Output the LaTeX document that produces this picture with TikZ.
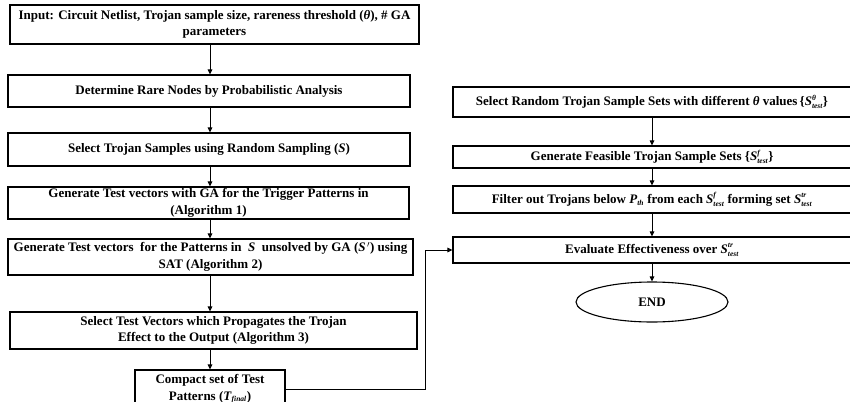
\documentclass[tikz,border=0pt]{standalone}
\usepackage{fontspec}
\setmainfont{Liberation Serif}
\usetikzlibrary{shapes.geometric,arrows.meta}
\newcommand{\myit}[1]{\textbf{\textit{#1}}}
\newcommand{\tinyit}[1]{\hbox{\fontsize{7.5}{7.5}\selectfont\bfseries\itshape #1}}
\newcommand{\Sset}[2]{$\myit{S}^{\tinyit{#1}}_{\tinyit{#2}}$}
\begin{document}
\begin{tikzpicture}[x=1pt,y=-1pt,
  box/.style={draw,line width=1.1pt,rectangle,inner sep=0pt,align=center,
    font=\fontsize{13}{16.5}\selectfont\bfseries},
  endnode/.style={draw,line width=1.1pt,ellipse,inner sep=0pt,
    font=\fontsize{13}{16.5}\selectfont\bfseries},
  arr/.style={line width=1pt,-{Triangle[length=5pt,width=4.5pt]}}]
\useasboundingbox (0,0) rectangle (850,401);
% left column
\node[box,minimum width=409pt,minimum height=39pt] (b1) at (214.5,24.5)
  {Input: Circuit Netlist, Trojan sample size, rareness threshold (\myit{θ}), \# GA\\parameters};
\node[box,minimum width=402pt,minimum height=32pt] (b2) at (209,91)
  {Determine Rare Nodes by Probabilistic Analysis};
\node[box,minimum width=402pt,minimum height=33pt] (b3) at (209,149.5)
  {Select Trojan Samples using Random Sampling (\myit{S})};
\node[box,minimum width=401pt,minimum height=32pt] (b4) at (208.5,203)
  {Generate Test vectors with GA for the Trigger Patterns in\\(Algorithm 1)};
\node[box,minimum width=405pt,minimum height=36pt] (b5) at (210.5,257)
  {Generate Test vectors\ \ for the Patterns in\ \ \myit{S}\ \ unsolved by GA (\myit{S}$^{\,\prime}$) using\\SAT (Algorithm 2)};
\node[box,minimum width=407pt,minimum height=37pt] (b6) at (213.5,330.5)
  {Select Test Vectors which Propagates the Trojan\\Effect to the Output (Algorithm 3)};
\node[box,minimum width=150pt,minimum height=38pt] (b7) at (210,389)
  {Compact set of Test\\Patterns (\myit{T}$_{\tinyit{final}}$)};
% right column
\node[box,minimum width=398pt,minimum height=30pt] (r1) at (652,102)
  {Select Random Trojan Sample Sets with different \myit{θ} values\,\{\Sset{θ}{test}\}};
\node[box,minimum width=398pt,minimum height=22pt] (r2) at (652,157)
  {Generate Feasible Trojan Sample Sets \{\Sset{f}{test}\}};
\node[box,minimum width=398pt,minimum height=27pt] (r3) at (652,199.5)
  {Filter out Trojans below \myit{P}$_{\tinyit{th}}$ from each \Sset{f}{test} forming set \Sset{tr}{test}};
\node[box,minimum width=398pt,minimum height=26pt] (r4) at (652,250)
  {Evaluate Effectiveness over \Sset{tr}{test}};
\node[endnode,minimum width=152pt,minimum height=40pt] (e) at (652,302) {END};
% connectors
\draw[arr] (b1.south -| b7.north) -- (b2.north -| b7.north);
\draw[arr] (b2.south -| b7.north) -- (b3.north -| b7.north);
\draw[arr] (b3.south -| b7.north) -- (b4.north -| b7.north);
\draw[arr] (b4.south -| b7.north) -- (b5.north -| b7.north);
\draw[arr] (b5.south -| b7.north) -- (b6.north -| b7.north);
\draw[arr] (b6.south -| b7.north) -- (b7.north);
\draw[arr] (r1.south) -- (r2.north);
\draw[arr] (r2.south) -- (r3.north);
\draw[arr] (r3.south) -- (r4.north);
\draw[arr] (r4.south) -- (e.north);
\coordinate (c1) at (425,389);
\draw[arr] (b7.east) -- (c1) -- (c1 |- r4.west) -- (r4.west);
\end{tikzpicture}
\end{document}
